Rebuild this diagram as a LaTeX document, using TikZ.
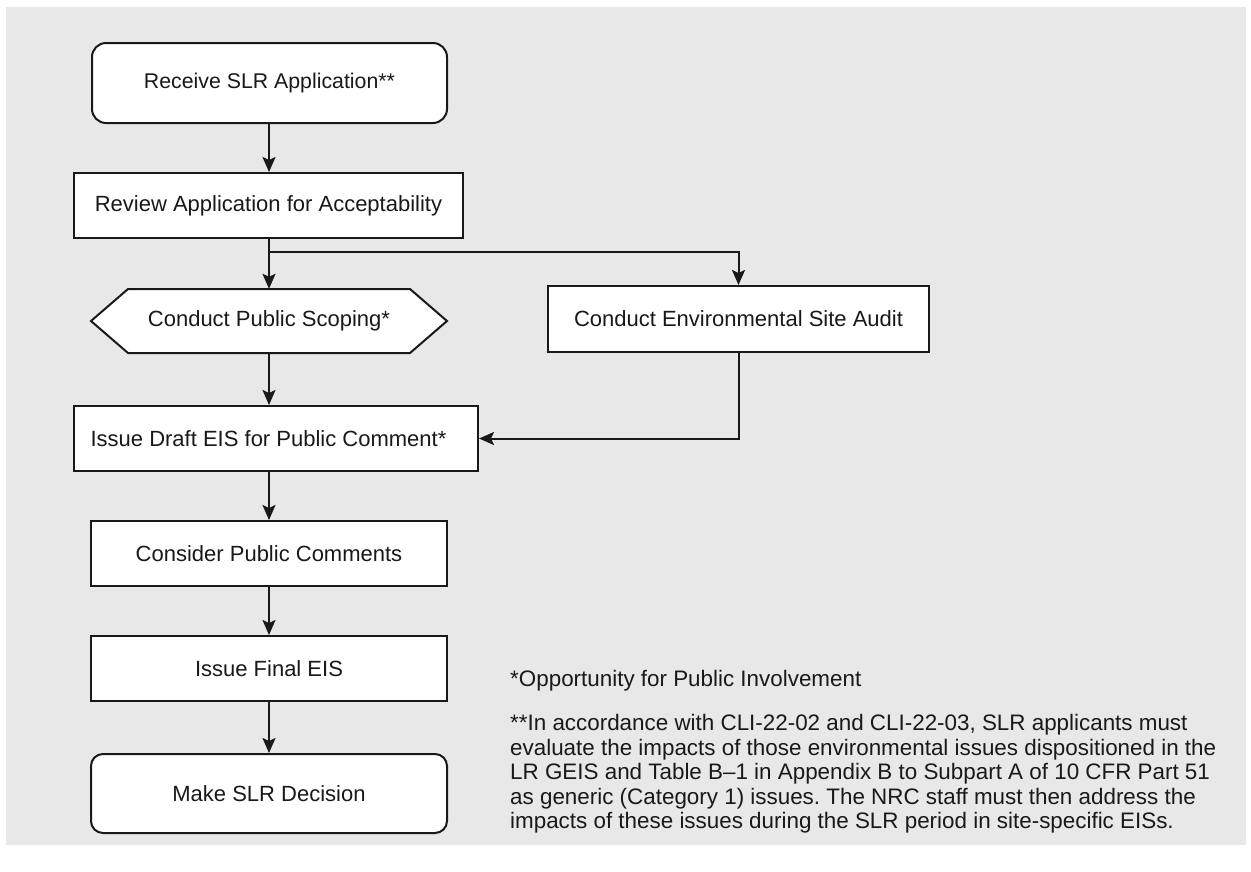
\documentclass[tikz,border=0pt]{standalone}
\usepackage{fontspec}
\setmainfont{Liberation Sans}
\usetikzlibrary{arrows.meta}
\definecolor{bggray}{RGB}{232,232,232}
\definecolor{ink}{RGB}{25,25,25}
\frenchspacing
\begin{document}
\begin{tikzpicture}[x=1pt,y=-1pt,
  box/.style={draw=ink, line width=2pt, fill=white, inner sep=0pt,
    font=\fontsize{22}{24}\selectfont, text=ink},
  roundbox/.style={box, rounded corners=14pt},
  arr/.style={draw=ink, line width=2pt, -{Stealth[length=15pt,width=13pt,inset=3pt]}},
  note/.style={anchor=north west, align=left, inner sep=0pt, text=ink,
    font=\fontsize{22.4}{24.6}\selectfont}]
\useasboundingbox (0,0) rectangle (1251,871);
\fill[white] (0,0) rectangle (1251,871);
\fill[bggray] (6,7) rectangle (1246,845);

% nodes
\node[roundbox, minimum width=355pt, minimum height=80pt, font=\fontsize{21.3}{24}\selectfont] (receive) at (269.5,83) {Receive SLR Application**};
\node[box, minimum width=389pt, minimum height=65pt] (review) at (268.5,205.5) {Review Application for Acceptability};
\draw[ink, line width=2pt, fill=white] (128,289) -- (410,289) -- (447,321) -- (410,353) -- (128,353) -- (91,321) -- cycle;
\node[inner sep=0pt, minimum width=356pt, minimum height=64pt, font=\fontsize{22}{24}\selectfont, text=ink] (scoping) at (269,321) {Conduct Public Scoping*};
\node[box, minimum width=381pt, minimum height=66pt] (audit) at (738.5,319) {Conduct Environmental Site Audit};
\node[box, minimum width=404pt, minimum height=65pt] (draft) at (276,438.5) {\hspace*{-15pt}Issue Draft EIS for Public Comment*};
\node[box, minimum width=356pt, minimum height=65pt] (consider) at (269,553.5) {Consider Public Comments};
\node[box, minimum width=356pt, minimum height=65pt] (final) at (269,668.5) {Issue Final EIS};
\node[roundbox, rounded corners=12pt, minimum width=356pt, minimum height=79pt] (decision) at (269,793.5) {Make SLR Decision};

% footnotes
\node[note] (note1) at (510,670.5) {*Opportunity for Public Involvement};
\node[note] (note2) at (510,714) {**In accordance with CLI-22-02 and CLI-22-03, SLR applicants must\\
evaluate the impacts of those environmental issues dispositioned in the\\
LR GEIS and Table B--1 in Appendix B to Subpart A of 10 CFR Part 51\\
as generic (Category 1) issues. The NRC staff must then address the\\
impacts of these issues during the SLR period in site-specific EISs.};

% connectors
\coordinate (split) at (269,252);
\draw[arr] (receive.south -| consider.north) -- (review.north -| consider.north);
\draw[arr] (review.south -| consider.north) -- (scoping.north);
\draw[arr] (split) -| (audit.north);
\draw[arr] (scoping.south) -- (scoping.south |- draft.north);
\draw[arr] (audit.south) |- (draft.east);
\draw[arr] (consider.north |- draft.south) -- (consider.north);
\draw[arr] (consider.south) -- (final.north);
\draw[arr] (final.south) -- (decision.north);
\end{tikzpicture}
\end{document}
